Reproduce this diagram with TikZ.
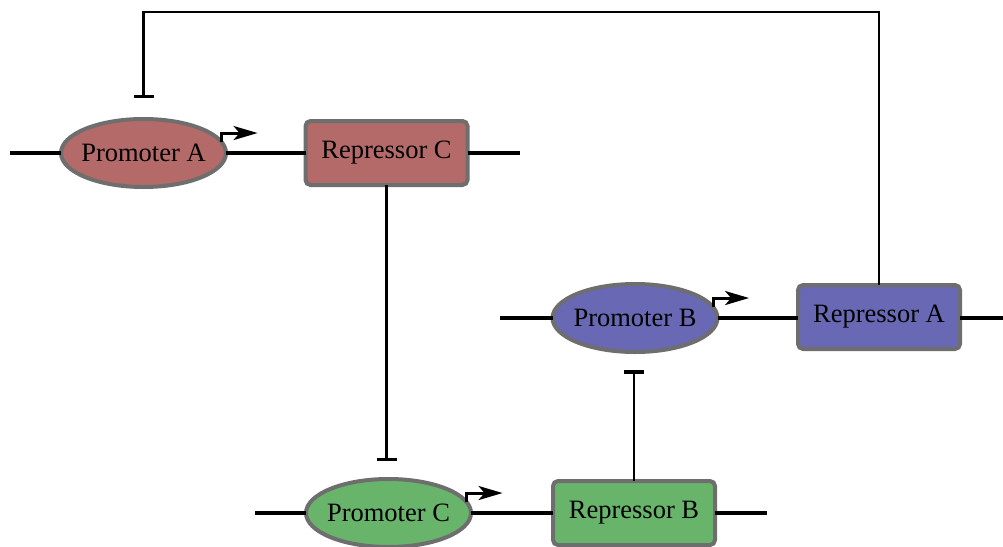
\documentclass[tikz,border=0pt]{standalone}
\usepackage{fontspec}
\setmainfont{Liberation Serif}
\usetikzlibrary{shapes.geometric,arrows.meta}
\definecolor{redfill}{RGB}{180,106,104}
\definecolor{bluefill}{RGB}{104,104,180}
\definecolor{greenfill}{RGB}{104,180,106}
\definecolor{edgegray}{RGB}{110,110,110}
\begin{document}
\begin{tikzpicture}[x=1pt,y=-1pt]
\tikzstyle{pro}=[ellipse,draw=edgegray,line width=4pt,minimum width=165pt,minimum height=68pt,inner xsep=-12pt,inner ysep=0pt,outer sep=0pt,font=\fontsize{26.5}{30}\selectfont];
\tikzstyle{rep}=[rectangle,rounded corners=5pt,draw=edgegray,line width=4pt,minimum width=162pt,minimum height=64pt,inner sep=0pt,outer sep=0pt,font=\fontsize{26.5}{30}\selectfont];
\tikzstyle{dna}=[line width=4pt];
\tikzstyle{start}=[line width=3pt,-{Stealth[length=24pt,width=14pt,inset=6pt]}];
\tikzstyle{inh}=[line width=2.5pt,-{Bar[width=20pt,line width=3.5pt]}];
\useasboundingbox (0,0) rectangle (1003,546);

% first gene
\node [pro,fill=redfill] (pA) at (143.5,153) {Promoter A};
\node [rep,fill=redfill] (rC) at (386.5,153) {Repressor C};
\coordinate (a1) at (10,153);
\coordinate (a2) at (520,153);
\draw [dna] (a1) -- (pA.west);
\draw [dna] (pA.east) -- (rC.west);
\draw [dna] (rC.east) -- (a2);
\draw [start] (pA.8) -- ++(0,-9) -- ++(36,0);

% second gene
\node [pro,fill=bluefill] (pB) at (635,318) {Promoter B};
\node [rep,fill=bluefill] (rA) at (879,317) {Repressor A};
\coordinate (b1) at (500,318);
\coordinate (b2) at (1003,318);
\draw [dna] (b1) -- (pB.west);
\draw [dna] (pB.east) -- (pB.east -| rA.west);
\draw [dna] (rA.east |- b2) -- (b2);
\draw [start] (pB.8) -- ++(0,-9) -- ++(36,0);

% third gene
\node [pro,fill=greenfill] (pC) at (388.5,513) {Promoter C};
\node [rep,fill=greenfill] (rB) at (634,513) {Repressor B};
\coordinate (c1) at (255,513);
\coordinate (c2) at (767,513);
\draw [dna] (c1) -- (pC.west);
\draw [dna] (pC.east) -- (rB.west);
\draw [dna] (rB.east) -- (c2);
\draw [start] (pC.8) -- ++(0,-9) -- ++(36,0);

% repression
\coordinate (top) at (0,12);
\draw [inh,shorten >=21pt] (rA.north) |- (top -| pA.north) -- (pA.north);
\draw [inh,shorten >=18pt] (rC.south) -- (rC.south |- pC.north);
\draw [inh,shorten >=18pt] (rB.north) -- (rB.north |- pB.south);
\end{tikzpicture}
\end{document}
